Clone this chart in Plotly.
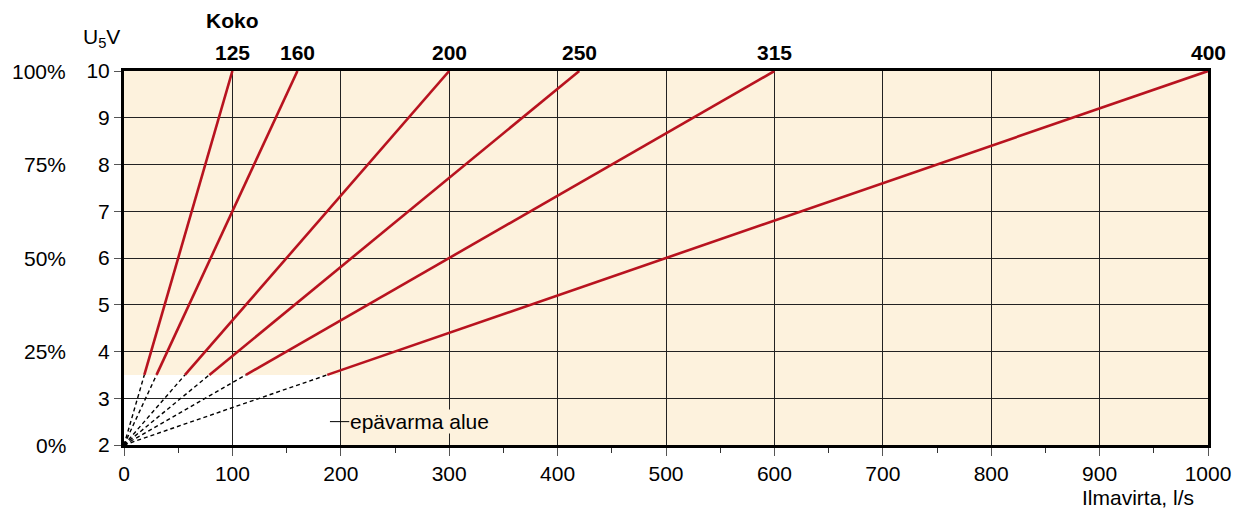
import plotly.graph_objects as go

# ---- data ----
sizes = ["125", "160", "200", "250", "315", "400"]
q_max = [100, 160, 300, 420, 600, 1000]          # airflow l/s at 10 V
u_min = 2
u_max = 10
u_uncertain = 3.5
q_uncertain = 200
y_ticks = [2, 3, 4, 5, 6, 7, 8, 9, 10]
pct_values = [2, 4, 6, 8, 10]
pct_labels = ["0%", "25%", "50%", "75%", "100%"]
x_ticks = list(range(0, 1001, 100))
note_text = "epävarma alue"
note_x = 208
note_y = 2.5

RED = "#B8131F"
BG = "#FDF2DD"
FONT = "Liberation Sans, Arial, Helvetica, sans-serif"
FS = 21

fig = go.Figure()

for s, q in zip(sizes, q_max):
    q_break = q * (u_uncertain - u_min) / (u_max - u_min)
    fig.add_trace(go.Scatter(x=[0, q_break], y=[u_min, u_uncertain], mode="lines",
                             line=dict(color="black", width=1.4, dash="4px,3px"),
                             showlegend=False, hoverinfo="skip"))
    fig.add_trace(go.Scatter(x=[q_break, q], y=[u_uncertain, u_max], mode="lines",
                             line=dict(color=RED, width=2.6),
                             showlegend=False, hoverinfo="skip"))
    fig.add_annotation(x=q, y=u_max, text="<b>%s</b>" % s, showarrow=False,
                       xanchor="center", yanchor="bottom", yshift=5,
                       font=dict(size=FS, color="black", family=FONT))

fig.add_trace(go.Scatter(x=[0], y=[u_min], mode="markers",
                         marker=dict(color="black", size=6), showlegend=False,
                         hoverinfo="skip", cliponaxis=False))

# uncertain (white) region
fig.add_shape(type="rect", x0=0, x1=q_uncertain, y0=u_min, y1=u_uncertain,
              xref="x", yref="y", fillcolor="white", line=dict(width=0), layer="below")

# note
fig.add_annotation(x=note_x, y=note_y, text=note_text, showarrow=False,
                   xanchor="left", yanchor="middle", bgcolor=BG, borderpad=0,
                   font=dict(size=FS, color="black", family=FONT))
fig.add_shape(type="line", x0=note_x - 18, x1=note_x, y0=note_y, y1=note_y,
              xref="x", yref="y", line=dict(color="black", width=1))

# percent labels
for v, t in zip(pct_values, pct_labels):
    fig.add_annotation(x=0, y=v, xref="paper", yref="y", text=t, showarrow=False,
                       xanchor="right", yanchor="middle", xshift=-56,
                       font=dict(size=FS, color="black", family=FONT))

fig.add_annotation(x=0, y=1, xref="paper", yref="paper", text="U<sub>5</sub>V",
                   showarrow=False, xanchor="right", yanchor="bottom", xshift=-2, yshift=18,
                   font=dict(size=FS, color="black", family=FONT))
fig.add_annotation(x=100, y=1, xref="x", yref="paper", text="<b>Koko</b>",
                   showarrow=False, xanchor="center", yanchor="bottom", yshift=37,
                   font=dict(size=FS, color="black", family=FONT))
fig.add_annotation(x=1, y=0, xref="paper", yref="paper", text="Ilmavirta, l/s",
                   showarrow=False, xanchor="right", yanchor="top", xshift=-12, yshift=-39,
                   font=dict(size=FS, color="black", family=FONT))

fig.update_xaxes(range=[0, 1000], tickvals=x_ticks, ticks="outside", ticklen=8,
                 tickcolor="#555", tickwidth=1,
                 minor=dict(dtick=50, ticks="outside", ticklen=5, tickcolor="#333", showgrid=False),
                 showgrid=True, gridcolor="#222", gridwidth=1,
                 showline=True, linecolor="black", linewidth=3, mirror=True,
                 zeroline=False, tickfont=dict(size=FS, color="black", family=FONT))
fig.update_yaxes(range=[u_min, u_max], tickvals=y_ticks, ticks="outside", ticklen=7,
                 tickcolor="#555", tickwidth=1,
                 showgrid=True, gridcolor="#222", gridwidth=1,
                 showline=True, linecolor="black", linewidth=3, mirror=True,
                 zeroline=False, tickfont=dict(size=FS, color="black", family=FONT))

fig.update_layout(width=1244, height=514, margin=dict(l=124, r=36, t=71, b=69),
                  plot_bgcolor=BG, paper_bgcolor="white",
                  font=dict(family=FONT, size=FS, color="black"))

fig.write_html("out.html", config={"displayModeBar": False},
               post_script="document.body.style.margin='0';document.body.style.overflow='hidden';")
